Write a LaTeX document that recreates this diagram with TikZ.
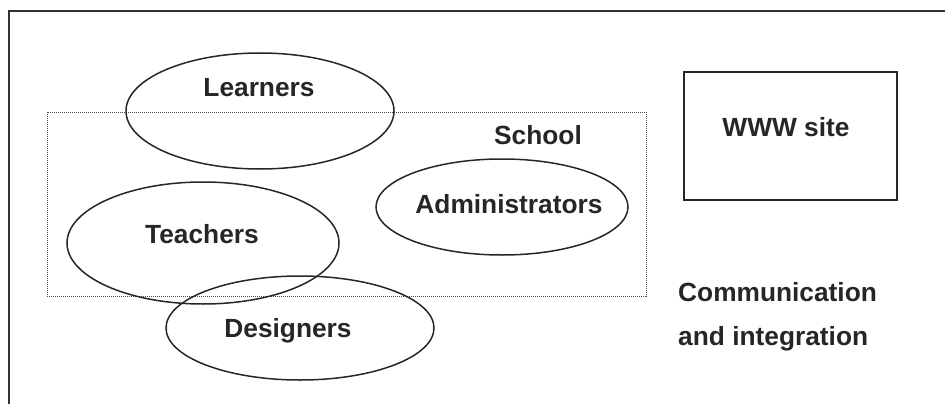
\documentclass[tikz,border=0pt]{standalone}
\usepackage{fontspec}
\setmainfont{Liberation Sans}
\usetikzlibrary{positioning}

\tikzset{
  group/.style={line width=1.5pt, black!85},
  label/.style={font=\fontsize{26.3}{31}\selectfont\bfseries, text=black!85, inner sep=0pt}
}

\begin{document}
\begin{tikzpicture}[x=1pt, y=-1pt]
      \useasboundingbox (0,0) rectangle (945,404);
      % frame, only top and left edge show
      \draw[line width=1.8pt, black!80] (9,404)--(9,11)--(945,11);

      % school area
      \draw[densely dotted, line width=1pt, black!70] (47,112) rectangle (646,296);
      \node[label] (school) at (538,135) {School};

      % groups
      \draw[group] (260,111) ellipse (134 and 58);
      \draw[group] (203,243) ellipse (136 and 61);
      \draw[group] (300,328) ellipse (134 and 52);
      \draw[group] (502,207) ellipse (126 and 48);
      \node[label] (learners) at (259,88) {Learners};
      \node[label] (teachers) at (202,234) {Teachers};
      \node[label] (designers) at (288,331) {Designers};
      \node[label] (admins) at (509,204) {Administrators};

      % web site
      \draw[group] (684,72) rectangle (897,200);
      \node[label] (www) at (786,127) {WWW site};

      \node[label, anchor=west] (comm) at (678,292) {Communication};
      \node[label, anchor=west] (integ) at (678,339) {and integration};
\end{tikzpicture}
\end{document}
